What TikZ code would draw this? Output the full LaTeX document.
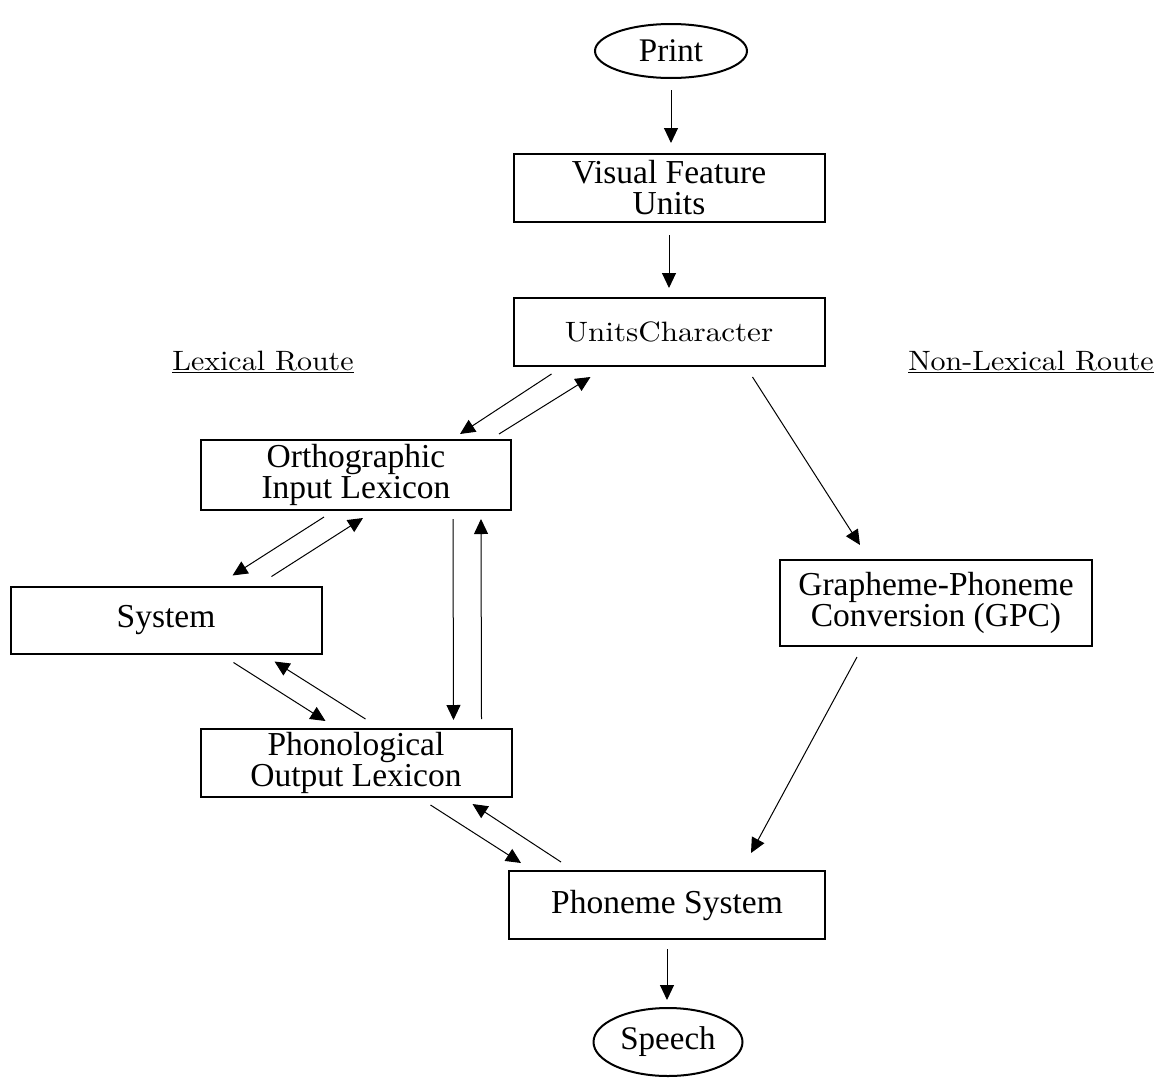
\documentclass[tikz,border=0pt]{standalone}
\usepackage{fontspec}
\usepackage{graphicx}
\setmainfont{Liberation Serif}
\newfontfamily\lmfont{lmroman10-regular.otf}
\usetikzlibrary{arrows.meta,shapes.geometric,calc}
\tikzset{
  box/.style={draw, line width=2pt, rectangle, inner sep=0pt, align=center,
    font=\fontsize{33.5}{31}\selectfont},
  oval/.style={draw, line width=2pt, ellipse, inner sep=0pt,
    font=\fontsize{33}{31}\selectfont},
  arr/.style={line width=1pt, -{Triangle[length=15pt,width=14pt]}},
  lbl/.style={inner sep=0pt, font=\lmfont\fontsize{28}{30}\selectfont}
}
\begin{document}
\begin{tikzpicture}[x=1pt,y=1pt]
\useasboundingbox (0,0) rectangle (1173,-1079);
% nodes
\node[oval, minimum width=152pt, minimum height=54pt] (print) at (671,-51) {Print};
\node[box, minimum width=311pt, minimum height=68pt] (vfu) at (669,-188) {Visual Feature\\Units};
\node[box, minimum width=311pt, minimum height=68pt, font=\lmfont\fontsize{28}{30}\selectfont] (uc) at (669,-332) {\scalebox{1.11}[1]{UnitsCharacter}};
\node[lbl] (lex) at (263,-362) {\scalebox{1.07}[1]{\underline{Lexical Route}}};
\node[lbl] (nonlex) at (1031,-362) {\scalebox{1.07}[1]{\underline{Non-Lexical Route}}};
\node[box, minimum width=310pt, minimum height=70pt] (oil) at (356,-475) {Orthographic\\Input Lexicon};
\node[box, minimum width=311pt, minimum height=67pt] (sys) at (166,-620) {System};
\node[box, minimum width=311pt, minimum height=68pt] (pol) at (356,-763) {Phonological\\Output Lexicon};
\node[box, minimum width=312pt, minimum height=86pt] (gpc) at (936,-603) {Grapheme-Phoneme\\Conversion (GPC)};
\node[box, minimum width=316pt, minimum height=68pt] (ps) at (667,-905) {Phoneme System};
\node[oval, minimum width=149pt, minimum height=68pt] (speech) at (668,-1042) {Speech};
% vertical main arrows
\draw[arr] ($(print.south)+(0,-11)$) -- ($(print.south |- vfu.north)+(0,10)$);
\draw[arr] ($(vfu.south)+(0,-12)$) -- ($(vfu.south |- uc.north)+(0,9)$);
\draw[arr] ($(ps.south)+(0,-9)$) -- ($(ps.south |- speech.north)+(0,7)$);
% UC <-> OIL
\draw[arr] ($(uc.south west)+(39,-7)$) -- ($(oil.north east)+(-52,5)$);
\draw[arr] ($(oil.north east)+(-13,5)$) -- ($(uc.south west)+(78,-10)$);
% OIL <-> System
\draw[arr] ($(oil.south west)+(124,-6)$) -- ($(sys.north east)+(-90,10)$);
\draw[arr] ($(sys.north east)+(-51,9)$) -- ($(oil.south west)+(163,-7)$);
% System <-> POL
\draw[arr] ($(sys.south east)+(-89,-8)$) -- ($(pol.north west)+(126,7)$);
\draw[arr] ($(pol.north west)+(166,9)$) -- ($(sys.south east)+(-48,-7)$);
% OIL <-> POL
\draw[arr] ($(oil.south west)+(253,-8)$) -- ($(pol.north west)+(254,8)$);
\draw[arr] ($(pol.north west)+(282,9)$) -- ($(oil.south west)+(281,-8)$);
% POL <-> PS
\draw[arr] ($(pol.south east)+(-82,-7)$) -- ($(ps.north west)+(13,7)$);
\draw[arr] ($(ps.north west)+(53,8)$) -- ($(pol.south east)+(-40,-6)$);
% Non-lexical route
\draw[arr] ($(uc.south east)+(-73,-10)$) -- ($(gpc.north west)+(81,14)$);
\draw[arr] ($(gpc.south west)+(78,-10)$) -- ($(ps.north east)+(-75,17)$);
\end{tikzpicture}
\end{document}
